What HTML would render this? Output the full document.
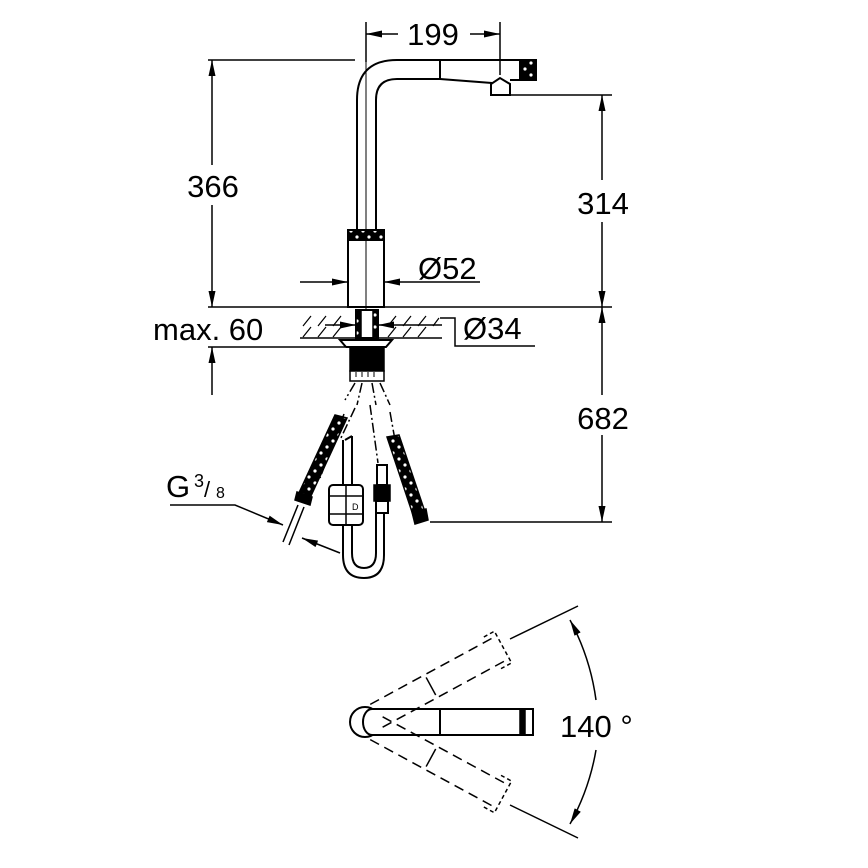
<!DOCTYPE html>
<html><head><style>body{margin:0;background:#fff}svg{display:block}text{font-family:"Liberation Sans",sans-serif;fill:#000}</style></head>
<body>
<svg width="868" height="868" viewBox="0 0 868 868" xmlns="http://www.w3.org/2000/svg">
<defs>
<marker id="a" viewBox="0 0 16 10" refX="16" refY="5" markerWidth="16" markerHeight="10" markerUnits="userSpaceOnUse" orient="auto-start-reverse"><path d="M0,1.5L16,5L0,8.5z" fill="#000"/></marker>
<pattern id="h" width="12" height="12" patternUnits="userSpaceOnUse"><rect width="12" height="12" fill="#000"/><circle cx="3" cy="3" r="1.6" fill="#fff"/><circle cx="9" cy="9" r="1.6" fill="#fff"/></pattern>
</defs>
<g stroke="#000" stroke-width="1.5" fill="none">
<line x1="366" y1="22" x2="366" y2="62"/><line x1="500" y1="22" x2="500" y2="75"/>
<line x1="366" y1="34" x2="398" y2="34" marker-start="url(#a)"/><line x1="470" y1="34" x2="500" y2="34" marker-end="url(#a)"/>
<path d="M357,232 V100 Q357,60 397,60 H520" stroke-width="2"/>
<path d="M376,232 V100 Q376,79 397,79 H440 L492,83" stroke-width="2"/>
<line x1="440" y1="60" x2="440" y2="79" stroke-width="2"/>
<rect x="520" y="60" width="16" height="20" fill="url(#h)" stroke-width="2"/>
<line x1="510" y1="80" x2="520" y2="80" stroke-width="2"/>
<path d="M491,95 V84 L500,78 L510,84 V95 Z" stroke-width="2" fill="#fff"/>
<line x1="366" y1="62" x2="366" y2="310" stroke-width="1"/>
<line x1="208" y1="60" x2="355" y2="60"/>
<line x1="510" y1="95" x2="612" y2="95"/>
<rect x="348" y="230" width="36" height="77" stroke-width="2" fill="#fff"/>
<rect x="348" y="230" width="36" height="10" fill="url(#h)" stroke-width="2"/>
<line x1="366" y1="240" x2="366" y2="307" stroke-width="1"/>
<line x1="300" y1="282" x2="348" y2="282" marker-end="url(#a)"/>
<line x1="384" y1="282" x2="480" y2="282" marker-start="url(#a)"/>
<line x1="208" y1="307" x2="612" y2="307"/>
<line x1="300" y1="338" x2="442" y2="338"/>
<g stroke-width="1.2">
<path d="M303,326 l8,-10 M318,326 l8,-10 M333,326 l8,-10 M388,326 l8,-10 M403,326 l8,-10 M418,326 l8,-10 M433,326 l6,-8
M303,337 l8,-10 M318,337 l8,-10 M333,337 l8,-10 M388,337 l8,-10 M403,337 l8,-10 M418,337 l8,-10"/>
</g>
<rect x="356" y="310" width="22" height="28" fill="#fff" stroke-width="2"/>
<rect x="356" y="310" width="5" height="28" fill="url(#h)"/><rect x="373" y="310" width="5" height="28" fill="url(#h)"/>
<line x1="325" y1="325" x2="356" y2="325" marker-end="url(#a)"/>
<line x1="378" y1="325" x2="442" y2="325" marker-start="url(#a)"/>
<path d="M440,318 H455 V346 H535"/>
<line x1="208" y1="347" x2="345" y2="347"/>
<path d="M340,340 H392 L386,347 H346 Z" fill="#fff" stroke-width="2"/>
<rect x="350" y="347" width="34" height="24" fill="#000"/>
<rect x="350" y="371" width="34" height="10" fill="#fff" stroke-width="1.5"/>
<path d="M356,372 v5 M362,372 v5 M368,372 v5 M374,372 v5" stroke-width="1"/>
<line x1="212" y1="165" x2="212" y2="60" marker-end="url(#a)"/>
<line x1="212" y1="205" x2="212" y2="307" marker-end="url(#a)"/>
<line x1="212" y1="395" x2="212" y2="347" marker-end="url(#a)"/>
<line x1="602" y1="180" x2="602" y2="95" marker-end="url(#a)"/>
<line x1="602" y1="222" x2="602" y2="307" marker-end="url(#a)"/>
<line x1="602" y1="395" x2="602" y2="307" marker-end="url(#a)"/>
<line x1="602" y1="435" x2="602" y2="522" marker-end="url(#a)"/>
<line x1="430" y1="522" x2="612" y2="522"/>
<path d="M355,383 L345,400 M362,383 L357,405 M372,383 L376,405 M380,383 L390,405" stroke-dasharray="10,3,2,3"/>
<path d="M344,414 L320,478 M355,408 L340,440 M370,405 L378,463 M390,412 L395,440" stroke-dasharray="10,3,2,3"/>
<path d="M335,415 L347,418 L310,498 L298,495 Z" fill="url(#h)" stroke-width="1.5"/>
<path d="M297,492 L312,497 L310,505 L295,500 Z" fill="#000"/>
<path d="M298,505 L283,542 M304,507 L289,545" stroke-width="1.5"/>
<path d="M387,437 L399,435 L425,512 L413,515 Z" fill="url(#h)"/>
<path d="M412,512 L426,509 L428,520 L415,524 Z" fill="#000"/>
<path d="M343,440 V555 Q343,578 364,578 Q384,578 384,555 V500" stroke-width="2"/>
<path d="M352,436 L345,440 M352,436 V553 Q352,568 364,568 Q376,568 376,553 V500" stroke-width="2"/>
<rect x="329" y="485" width="34" height="40" rx="4" fill="#fff" stroke-width="2"/>
<path d="M346,485 V525 M329,496 H363 M329,514 H363"/>
<text x="352" y="510" font-size="9" stroke="none">D</text>
<rect x="377" y="465" width="10" height="20" fill="#fff" stroke-width="2"/>
<rect x="374" y="485" width="16" height="16" fill="#000"/>
<rect x="376" y="501" width="12" height="12" fill="#fff" stroke-width="2"/>
<path d="M170,505 H235 L283,525" marker-end="url(#a)"/>
<line x1="340" y1="553" x2="302" y2="538" marker-end="url(#a)"/>
<circle cx="365" cy="722" r="15" stroke-width="2"/>
<path d="M533,709 H372 A9,13 0 0 0 372,735 H533 Z" stroke-width="2" fill="#fff"/>
<line x1="440" y1="709" x2="440" y2="735" stroke-width="2"/>
<rect x="520" y="709" width="5" height="26" fill="#000"/>
<g transform="rotate(-28.5 365 722)" stroke-dasharray="10,6">
<path d="M378,709 H520 M378,735 H520"/><path d="M440,712 V732" stroke-dasharray="none"/><path d="M510,704 H522 V740 H510" stroke-dasharray="4,3"/>
</g>
<g transform="rotate(28.5 365 722)" stroke-dasharray="10,6">
<path d="M378,709 H520 M378,735 H520"/><path d="M440,712 V732" stroke-dasharray="none"/><path d="M510,704 H522 V740 H510" stroke-dasharray="4,3"/>
</g>
<line x1="510" y1="639" x2="578" y2="606"/><line x1="510" y1="805" x2="578" y2="838"/>
<path d="M570,620 A235,235 0 0 1 596,700" marker-start="url(#a)"/>
<path d="M596,750 A235,235 0 0 1 570,824" marker-end="url(#a)"/>
</g>
<g font-size="31">
<text x="433" y="45" text-anchor="middle">199</text>
<text x="213" y="197" text-anchor="middle">366</text>
<text x="603" y="214" text-anchor="middle">314</text>
<text x="603" y="429" text-anchor="middle">682</text>
<text x="418" y="279">Ø52</text>
<text x="463" y="339">Ø34</text>
<text x="153" y="340">max. 60</text>
<text x="166" y="497">G</text>
<text x="560" y="737">140 °</text>
</g>
<text x="194" y="487" font-size="18">3</text>
<text x="204" y="497" font-size="22">/</text>
<text x="216" y="498" font-size="16">8</text>
</svg>
</body></html>
